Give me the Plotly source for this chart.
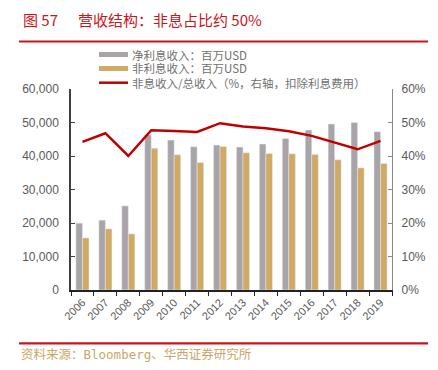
import plotly.graph_objects as go

years = ["2006","2007","2008","2009","2010","2011","2012","2013","2014","2015","2016","2017","2018","2019"]
net_interest = [19950, 20850, 25100, 46350, 44750, 42750, 43250, 42650, 43550, 45250, 47750, 49550, 50000, 47250]
non_interest = [15550, 18250, 16750, 42350, 40350, 38050, 42850, 40950, 40750, 40650, 40450, 38850, 36450, 37750]
ratio = [0.442, 0.468, 0.400, 0.477, 0.475, 0.472, 0.498, 0.488, 0.483, 0.474, 0.460, 0.440, 0.420, 0.445]

legend_names = ["净利息收入：百万USD", "非利息收入：百万USD", "非息收入/总收入（%，右轴，扣除利息费用）"]
left_ticks = [0, 10000, 20000, 30000, 40000, 50000, 60000]
right_ticks = [0, 0.1, 0.2, 0.3, 0.4, 0.5, 0.6]

GRAY = "#A9A4A8"
TAN = "#D0A965"
RED = "#C00000"
TXT = "#595959"
FONT = "Noto Sans CJK SC"

# page has an 8px body margin; figure is sized so it fills the 438x370 window
OFF = 8
W, H = 430, 362
L, T = 71 - OFF, 89 - OFF
PW, PH = 321, 201
R, B = W - L - PW, H - T - PH

fig = go.Figure()
fig.add_trace(go.Bar(x=years, y=net_interest, name=legend_names[0], marker_color=GRAY, showlegend=False))
fig.add_trace(go.Bar(x=years, y=non_interest, name=legend_names[1], marker_color=TAN, showlegend=False))
fig.add_trace(go.Scatter(x=years, y=ratio, name=legend_names[2], yaxis="y2", mode="lines",
                         line=dict(color=RED, width=2.5), showlegend=False))

fig.update_layout(
    width=W, height=H,
    margin=dict(l=L, r=R, t=T, b=B, pad=0),
    paper_bgcolor="white", plot_bgcolor="white",
    barmode="group", bargap=0.43, bargroupgap=0,
    font=dict(family=FONT, color=TXT, size=12),
    xaxis=dict(showgrid=False, showline=True, linecolor="#222222", linewidth=1.5, automargin=False,
               ticks="outside", tickson="boundaries", ticklen=4, tickcolor="#222222",
               tickangle=-45, tickfont=dict(size=11, color=TXT, family="Liberation Sans")),
    yaxis=dict(range=[0, 60000], tickvals=left_ticks, tickformat=",d", showgrid=False, automargin=False,
               showline=True, linecolor="#404040", linewidth=1.5, ticks="inside", ticklen=4,
               tickcolor="#404040", zeroline=False, ticklabelstandoff=8,
               tickfont=dict(size=12, color=TXT, family="Liberation Sans")),
    yaxis2=dict(range=[0, 0.6], tickvals=right_ticks, tickformat=".0%", overlaying="y", side="right",
                showgrid=False, showline=True, linecolor="#888888", linewidth=1.2, ticks="inside",
                ticklen=4, tickcolor="#888888", zeroline=False, automargin=False, ticklabelstandoff=6,
                tickfont=dict(size=12, color=TXT, family="Liberation Sans")),
)

# convert window pixel coordinates (as measured on the reference) to paper coordinates
def px(x):
    return (x - OFF - L) / PW

def py(y):
    return (H + OFF - B - y) / PH

shapes = []
annotations = []
TRED = "#C8161D"
# title
annotations.append(dict(xref="paper", yref="paper", x=px(21), y=py(20), xanchor="left", yanchor="middle",
                        text="图 57", showarrow=False, font=dict(size=15, color=TRED, family=FONT)))
annotations.append(dict(xref="paper", yref="paper", x=px(76), y=py(20), xanchor="left", yanchor="middle",
                        text="营收结构：非息占比约 50%", showarrow=False,
                        font=dict(size=15, color=TRED, family=FONT)))
annotations.append(dict(xref="paper", yref="paper", x=px(431), y=py(20), xanchor="left", yanchor="middle",
                        text="图", showarrow=False, font=dict(size=15, color=TRED, family=FONT)))
for yy in (41.5, 343.3):
    shapes.append(dict(type="line", xref="paper", yref="paper", x0=px(19), x1=px(428), y0=py(yy), y1=py(yy),
                       line=dict(color=TRED, width=2.2)))
    shapes.append(dict(type="line", xref="paper", yref="paper", x0=px(433), x1=px(445), y0=py(yy), y1=py(yy),
                       line=dict(color=TRED, width=2.2)))
# footer
SRC_FONT = "DejaVu Sans Mono, Noto Sans CJK SC"
annotations.append(dict(xref="paper", yref="paper", x=px(19), y=py(354.5), xanchor="left", yanchor="middle",
                        text="资料来源：Bloomberg、华西证券研究所", showarrow=False,
                        font=dict(size=12.5, color="#C8A76A", family=SRC_FONT)))
annotations.append(dict(xref="paper", yref="paper", x=px(432), y=py(354.5), xanchor="left", yanchor="middle",
                        text="资", showarrow=False, font=dict(size=12.5, color="#C8A76A", family=SRC_FONT)))
# legend
leg_y = [54.5, 68.5, 82.7]
for i, (name, col) in enumerate(zip(legend_names, [GRAY, TAN, RED])):
    if i < 2:
        shapes.append(dict(type="rect", xref="paper", yref="paper", x0=px(99), x1=px(128),
                           y0=py(leg_y[i] - 2.5), y1=py(leg_y[i] + 2.5), fillcolor=col, line=dict(width=0)))
    else:
        shapes.append(dict(type="line", xref="paper", yref="paper", x0=px(99), x1=px(128),
                           y0=py(leg_y[i]), y1=py(leg_y[i]), line=dict(color=col, width=2.5)))
    annotations.append(dict(xref="paper", yref="paper", x=px(130), y=py(leg_y[i]), xanchor="left",
                            yanchor="middle", text=name, showarrow=False,
                            font=dict(size=11.5, color="#707070", family=FONT)))

fig.update_layout(shapes=shapes, annotations=annotations)
fig.write_html("out.html")
